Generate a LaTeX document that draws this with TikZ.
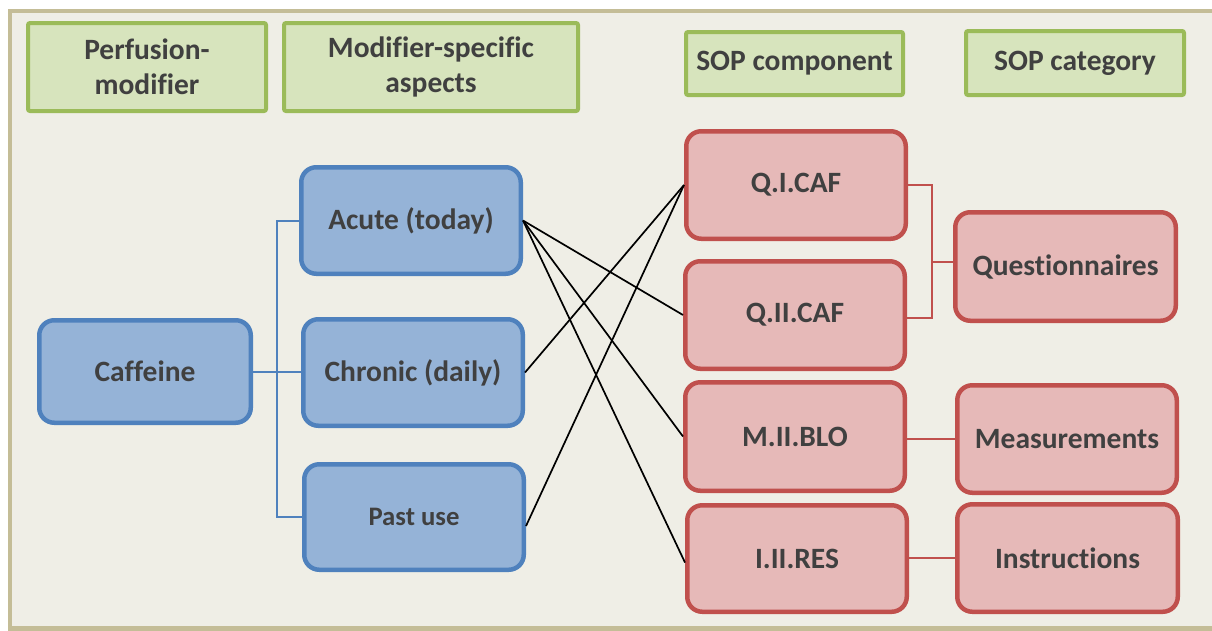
\documentclass[tikz,border=0pt]{standalone}
\usepackage{fontspec}
\setmainfont{Carlito}[Ligatures=NoCommon]
\usetikzlibrary{calc}
\definecolor{frameline}{HTML}{C4BD97}
\definecolor{framefill}{HTML}{EFEEE6}
\definecolor{hdrfill}{HTML}{D7E4BD}
\definecolor{hdrline}{HTML}{9BBB59}
\definecolor{bluefill}{HTML}{95B3D7}
\definecolor{blueline}{HTML}{4F81BD}
\definecolor{redfill}{HTML}{E6B9B8}
\definecolor{redline}{HTML}{C0504D}
\definecolor{txt}{HTML}{404040}
\begin{document}
\begin{tikzpicture}[x=1pt,y=-1pt,
  lbl/.style={font=\fontsize{29.5}{35}\selectfont\bfseries, text=txt, align=center, inner sep=0pt},
  hdr/.style={lbl, draw=hdrline, fill=hdrfill, line width=4pt, rounded corners=2pt},
  bluebox/.style={lbl, draw=blueline, fill=bluefill, line width=4.5pt, rounded corners=15pt},
  redbox/.style={lbl, draw=redline, fill=redfill, line width=4.5pt, rounded corners=15pt},
  sz/.style 2 args={minimum width=#1pt, minimum height=#2pt},
  blink/.style={draw=blueline, line width=2pt},
  rlink/.style={draw=redline, line width=2pt},
  klink/.style={draw=black, line width=1.7pt}
]
\useasboundingbox (0,0) rectangle (1212,630);
\fill[white] (0,0) rectangle (1212,630);
% panel
\draw[frameline, line width=4.5pt, fill=framefill] (10,11) rectangle (1250,628.5);

% column headers
\node[hdr, sz={238}{88}] (h1) at (147,67) {Perfusion-\\modifier};
\node[hdr, sz={294}{88}] (h2) at (431,67) {Modifier-specific\\aspects};
\node[hdr, sz={217}{63}] (h3) at (794.5,63.5) {SOP component};
\node[hdr, sz={218}{64}] (h4) at (1075,63) {SOP category};

% modifier and its aspects
\node[bluebox, sz={211.5}{102.5}] (caf) at (145,371.5) {Caffeine};
\node[bluebox, sz={219.5}{106.5}] (acu) at (411,220.5) {Acute (today)};
\node[bluebox, sz={219.5}{106.5}] (chr) at (413,372.5) {Chronic (daily)};
\node[bluebox, sz={219.5}{105.5}, font=\fontsize{26.7}{32}\selectfont\bfseries] (pu) at (414,517) {Past use};

% SOP components
\node[redbox, sz={219.5}{107.5}] (q1) at (796,185) {Q.I.CAF};
\node[redbox, sz={219.5}{107.5}] (q2) at (795,315) {Q.II.CAF};
\node[redbox, sz={219.5}{108.5}] (m2) at (795,436.5) {M.II.BLO};
\node[redbox, sz={219.5}{106.5}] (i2) at (797,558.5) {I.II.RES};

% SOP categories
\node[redbox, sz={220.5}{108.5}] (qq) at (1065.5,266.5) {Questionnaires};
\node[redbox, sz={219.5}{107.5}] (ms) at (1067,439) {Measurements};
\node[redbox, sz={220.5}{107.5}] (ins) at (1067.5,558) {Instructions};

% tree from the modifier to its aspects
\coordinate (bt) at (277,0);
\draw[blink] (caf.east) -- (caf.east -| chr.west);
\draw[blink] (acu.west) -- (acu.west -| bt) -- (pu.west -| bt) -- (pu.west);

% aspects to SOP components
\draw[klink] (acu.east) -- (q2.west);
\draw[klink] (acu.east) -- (m2.west);
\draw[klink] (acu.east) -- ([yshift=-4pt]i2.west);
\draw[klink] (chr.east) -- (q1.west);
\draw[klink] ([yshift=-9pt]pu.east) -- (q1.west);

% SOP components to categories
\coordinate (rt) at (932,0);
\draw[rlink] (q1.east) -- (q1.east -| rt) |- ([yshift=-3pt]q2.east);
\draw[rlink] ([yshift=5pt]qq.west) -- ([yshift=5pt]qq.west -| rt);
\draw[rlink] (ms.west -| m2.east) -- (ms.west);
\draw[rlink] (ins.west -| i2.east) -- (ins.west);
\end{tikzpicture}
\end{document}
